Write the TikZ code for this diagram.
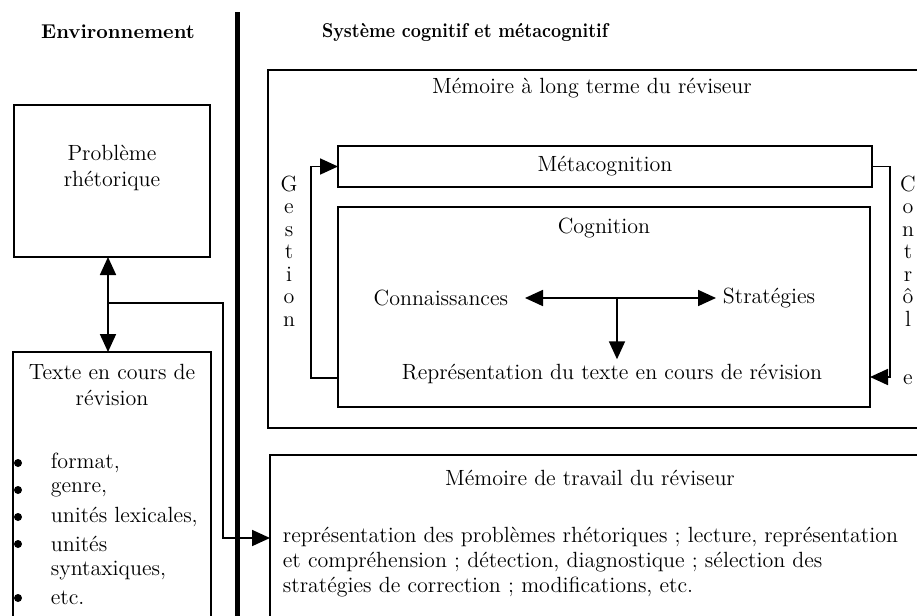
\documentclass[tikz,border=0pt]{standalone}
\usepackage{tikz}
\usetikzlibrary{arrows.meta}

\begin{document}
\begin{tikzpicture}[x=0.5pt,y=-0.5pt,line width=0.9pt,>={Triangle[length=9pt,width=8pt]},
        box/.style={draw,rectangle,inner sep=0pt,outer sep=0pt,anchor=north west},
        txt/.style={inner sep=2pt,font=\fontsize{11}{13}\selectfont},
        hd/.style={inner sep=2pt,font=\fontsize{10}{12}\selectfont\bfseries},
        puce/.style={circle,fill=black,inner sep=0pt,minimum size=4pt},
        vert/.style={txt,align=center,anchor=north,font=\fontsize{11}{11.25}\selectfont}]
        \useasboundingbox (0,0) rectangle (917,616);
        % titres
        \node[hd] (env) at (118,32) {Environnement};
        \node[hd] (sys) at (465,32) {\scalebox{0.88}[1]{Système cognitif et métacognitif}};
        \coordinate (sep1) at (237,12);
        \coordinate (sep2) at (237,620);
        \draw[line width=2.5pt] (sep1)--(sep2);
        % environnement
        \node[box,minimum width=98pt,minimum height=76pt] (probleme) at (14,105) {};
        \node[txt,align=center] (probtxt) at (112,168) {Problème\\rhétorique};
        \node[box,minimum width=99pt,minimum height=145pt] (texte) at (13,352) {};
        \node[txt,align=center] (textetxt) at (112,385) {Texte en cours de\\révision};
        \node[puce] (b1) at (18,463) {};
        \node[puce] (b2) at (18,490) {};
        \node[puce] (b3) at (18,517) {};
        \node[puce] (b4) at (18,544) {};
        \node[puce] (b5) at (18,598) {};
        \node[txt,anchor=west] (i1) at (46,463) {format,};
        \node[txt,anchor=west] (i2) at (46,490) {genre,};
        \node[txt,anchor=west] (i3) at (46,517) {unités lexicales,};
        \node[txt,anchor=west] (i4) at (46,544) {unités};
        \node[txt,anchor=west] (i5) at (46,571) {syntaxiques,};
        \node[txt,anchor=west] (i6) at (46,598) {etc.};
        % memoire a long terme
        \node[box,minimum width=335pt,minimum height=179pt] (memlt) at (268,70) {};
        \node[txt] (lttitre) at (592,88) {Mémoire à long terme du réviseur};
        \node[box,minimum width=267pt,minimum height=20.5pt,txt,inner sep=0pt,anchor=north west] (meta) at (338,146) {Métacognition};
        \node[box,minimum width=266pt,minimum height=100pt] (cog) at (338,207) {};
        \node[txt] (cogtxt) at (604,228) {Cognition};
        \node[txt,anchor=east] (conn) at (513,298) {Connaissances};
        \node[txt,anchor=west] (strat) at (718,298) {Stratégies};
        \node[txt] (repr) at (612,374) {Représentation du texte en cours de révision};
        \coordinate (hub) at (617,298);
        \draw[<->] ([xshift=6pt]conn.east)--([xshift=-1pt]strat.west);
        \draw[->] (hub)--(hub |- repr.north);
        % gestion et controle
        \node[vert] (gest) at (289,171) {G\\e\\s\\t\\i\\o\\n};
        \node[vert] (contr) at (908,171) {C\\o\\n\\t\\r\\ô\\l\\[18pt]e};
        \coordinate (gbas) at (338,378);
        \coordinate (cin) at (870,377);
        \draw[->] (gbas)--++(-27,0) |- (meta.west);
        \draw[->] (meta.east)--++(18,0) |- (cin);
        % memoire de travail
        \node[box,minimum width=335pt,minimum height=95pt] (travail) at (270,455) {};
        \node[txt] (tvtitre) at (590,478) {Mémoire de travail du réviseur};
        \node[txt,anchor=north west,align=left,font=\fontsize{11}{12.5}\selectfont] (tvtxt) at (278,522)
            {représentation des problèmes rhétoriques ; lecture, représentation\\
             et compréhension ; détection, diagnostique ; sélection des\\
             stratégies de correction ; modifications, etc.};
        % fleches environnement
        \coordinate (fork) at (108,303);
        \coordinate (bend) at (223,538);
        \draw[->] (fork)--(fork |- probleme.south);
        \draw[->] (fork)--(fork |- texte.north);
        \draw[->] (fork) -| (bend)--(bend -| travail.west);
      \end{tikzpicture}
\end{document}
